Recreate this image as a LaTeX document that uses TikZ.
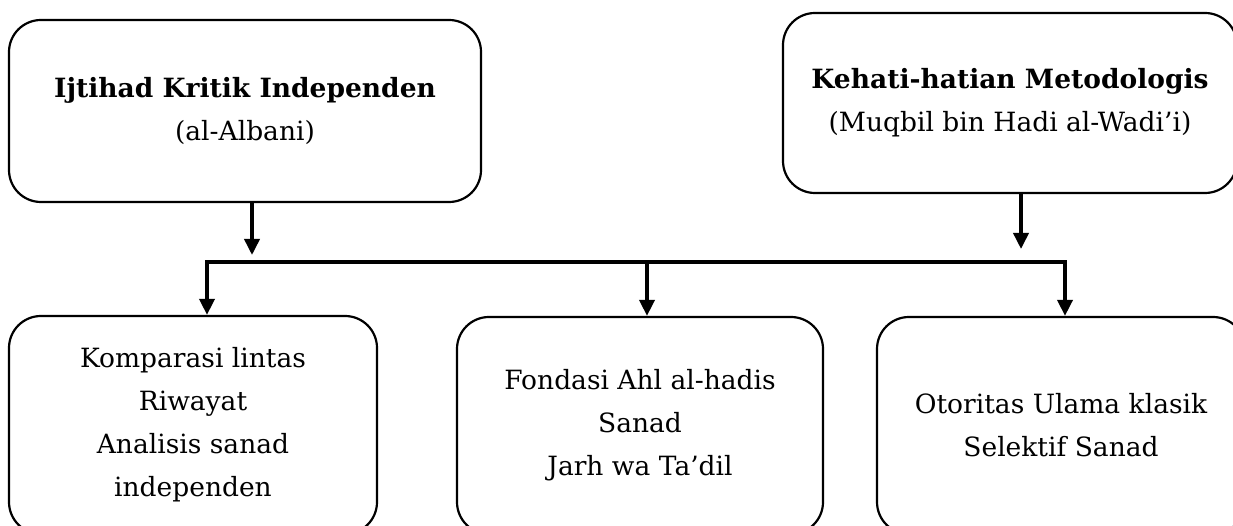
\documentclass[tikz,border=0pt]{standalone}
\usepackage{fontspec}
\setmainfont{DejaVu Serif}
\usetikzlibrary{arrows.meta}
\tikzset{
  box/.style={draw=black, line width=2.2pt, rounded corners=32pt, fill=white,
    align=center, inner sep=0pt, font=\fontsize{26.5}{43}\selectfont},
  conn/.style={draw=black, line width=3.6pt},
  arr/.style={conn, -{Triangle[length=16pt,width=15pt]}}
}
\newcommand{\hd}[1]{{\bfseries\fontsize{26.5}{43}\selectfont #1}}
\begin{document}
\begin{tikzpicture}[x=1pt,y=-1pt]
\useasboundingbox (0,0) rectangle (1233,526);
\clip (0,0) rectangle (1233,526);
% top boxes
\node[box, minimum width=472pt, minimum height=182pt] (b1) at (245,111)
  {\hd{Ijtihad Kritik Independen}\\(al-Albani)};
\node[box, minimum width=454pt, minimum height=180pt] (b2) at (1010,103)
  {\hd{Kehati-hatian Metodologis}\\(Muqbil bin Hadi al-Wadi’i)};
% bottom boxes
\node[box, minimum width=368pt, minimum height=218pt] (c1) at (193,425)
  {Komparasi lintas\\Riwayat\\Analisis sanad\\independen};
\node[box, minimum width=366pt, minimum height=217pt] (c2) at (640,425.5)
  {Fondasi Ahl al-hadis\\Sanad\\Jarh wa Ta’dil};
\node[box, minimum width=368pt, minimum height=217pt] (c3) at (1061,425.5)
  {Otoritas Ulama klasik\\Selektif Sanad};
% bus
\coordinate (busL) at (207,262);
\coordinate (busM) at (647,262);
\coordinate (busR) at (1065,262);
\coordinate (t1) at (252,262);
\coordinate (t2) at (1021,262);
\draw[conn, line cap=rect] (busL) -- (busR);
% arrows from top boxes
\draw[arr] (b1.south -| t1) -- ([yshift=7pt]t1);
\draw[arr] (b2.south -| t2) -- ([yshift=13pt]t2);
% arrows to bottom boxes
\draw[arr] (busL) -- (c1.north -| busL);
\draw[arr] (busM) -- (c2.north -| busM);
\draw[arr] (busR) -- (c3.north -| busR);
\end{tikzpicture}
\end{document}
